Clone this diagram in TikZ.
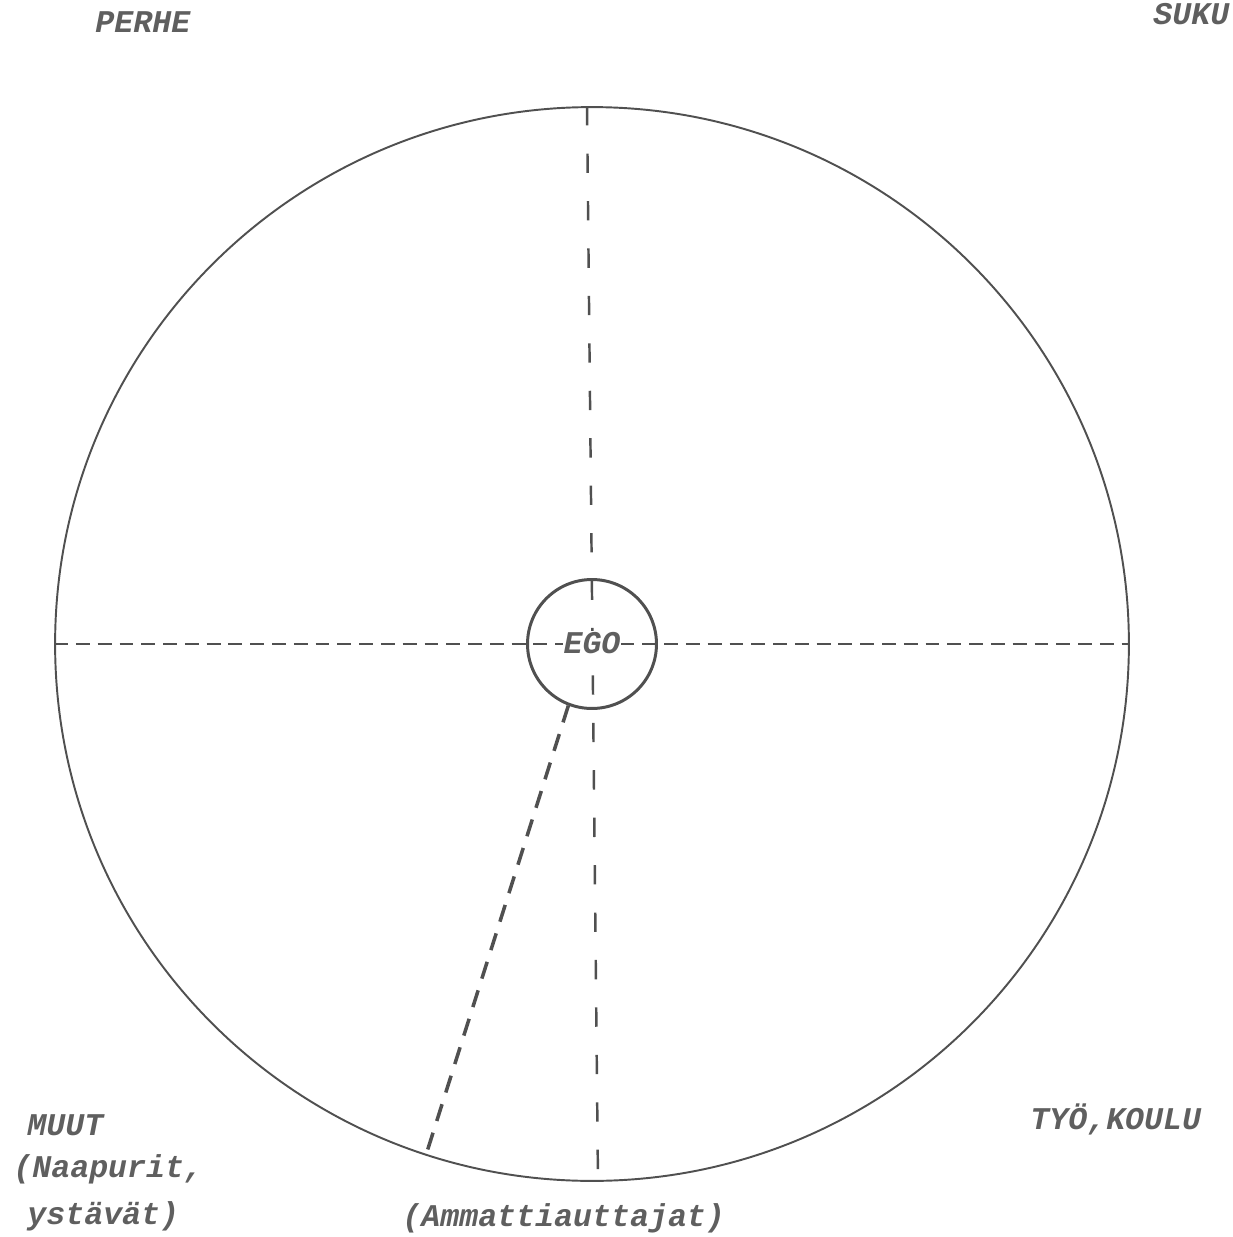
\documentclass[tikz,border=0pt]{standalone}
\usepackage{fontspec}
\usepackage{xcolor}
\usepackage{tikz}
\usetikzlibrary{positioning}
\newfontfamily\labelfont{Liberation Mono}
\definecolor{inkGray}{RGB}{80, 80, 80}
\definecolor{textGray}{RGB}{95, 95, 95}
\tikzset{
  ringnode/.style={
    circle, draw=inkGray, line width=1.1pt,
    minimum size=21.48cm, inner sep=0pt
  },
  egonode/.style={
    circle, draw=inkGray, line width=1.7pt,
    minimum size=2.58cm, inner sep=0pt
  },
  labeltext/.style={
    text=textGray, inner sep=0pt, anchor=base west,
    font=\labelfont\bfseries\itshape\fontsize{18}{21}\selectfont
  },
  axisline/.style={
    draw=inkGray, line width=1.6pt,
    dash pattern=on 7.9pt off 4.5pt
  },
  spokeline/.style={
    draw=inkGray, line width=1.4pt,
    dash pattern=on 11pt off 16pt
  },
  slantline/.style={
    draw=inkGray, line width=2pt,
    dash pattern=on 10pt off 7pt
  }
}

\begin{document}
\begin{tikzpicture}[x=0.02cm, y=-0.02cm]
  \useasboundingbox (0,0) rectangle (1232,1237);

  \node[ringnode] (ring) at (592,644) {};
  \node[egonode]  (ego)  at (592,644) {};

  % dashed divisions
  \draw[axisline]  (ring.west) -- (ring.east);
  \draw[spokeline] ([xshift=-0.1cm]ring.north) -- ([xshift=0.12cm]ring.south);
  \draw[slantline] (ego.249) -- (ring.252);

  \node[labeltext, anchor=center, fill=white, inner sep=0.5pt] (egotext) at (592,643) {EGO};

  \node[labeltext] (perhe)    at (95,33)    {PERHE};
  \node[labeltext] (suku)     at (1153,25)  {SUKU};
  \node[labeltext] (muut)     at (27,1135)  {MUUT};
  \node[labeltext] (naapurit) at (13,1177)  {(Naapurit,};
  \node[labeltext] (ystavat)  at (27,1224)  {ystävät)};
  \node[labeltext] (ammatti)  at (402,1226) {(Ammattiauttajat)};
  \node[labeltext] (tyo)      at (1030,1129) {TYÖ,KOULU};
\end{tikzpicture}
\end{document}
